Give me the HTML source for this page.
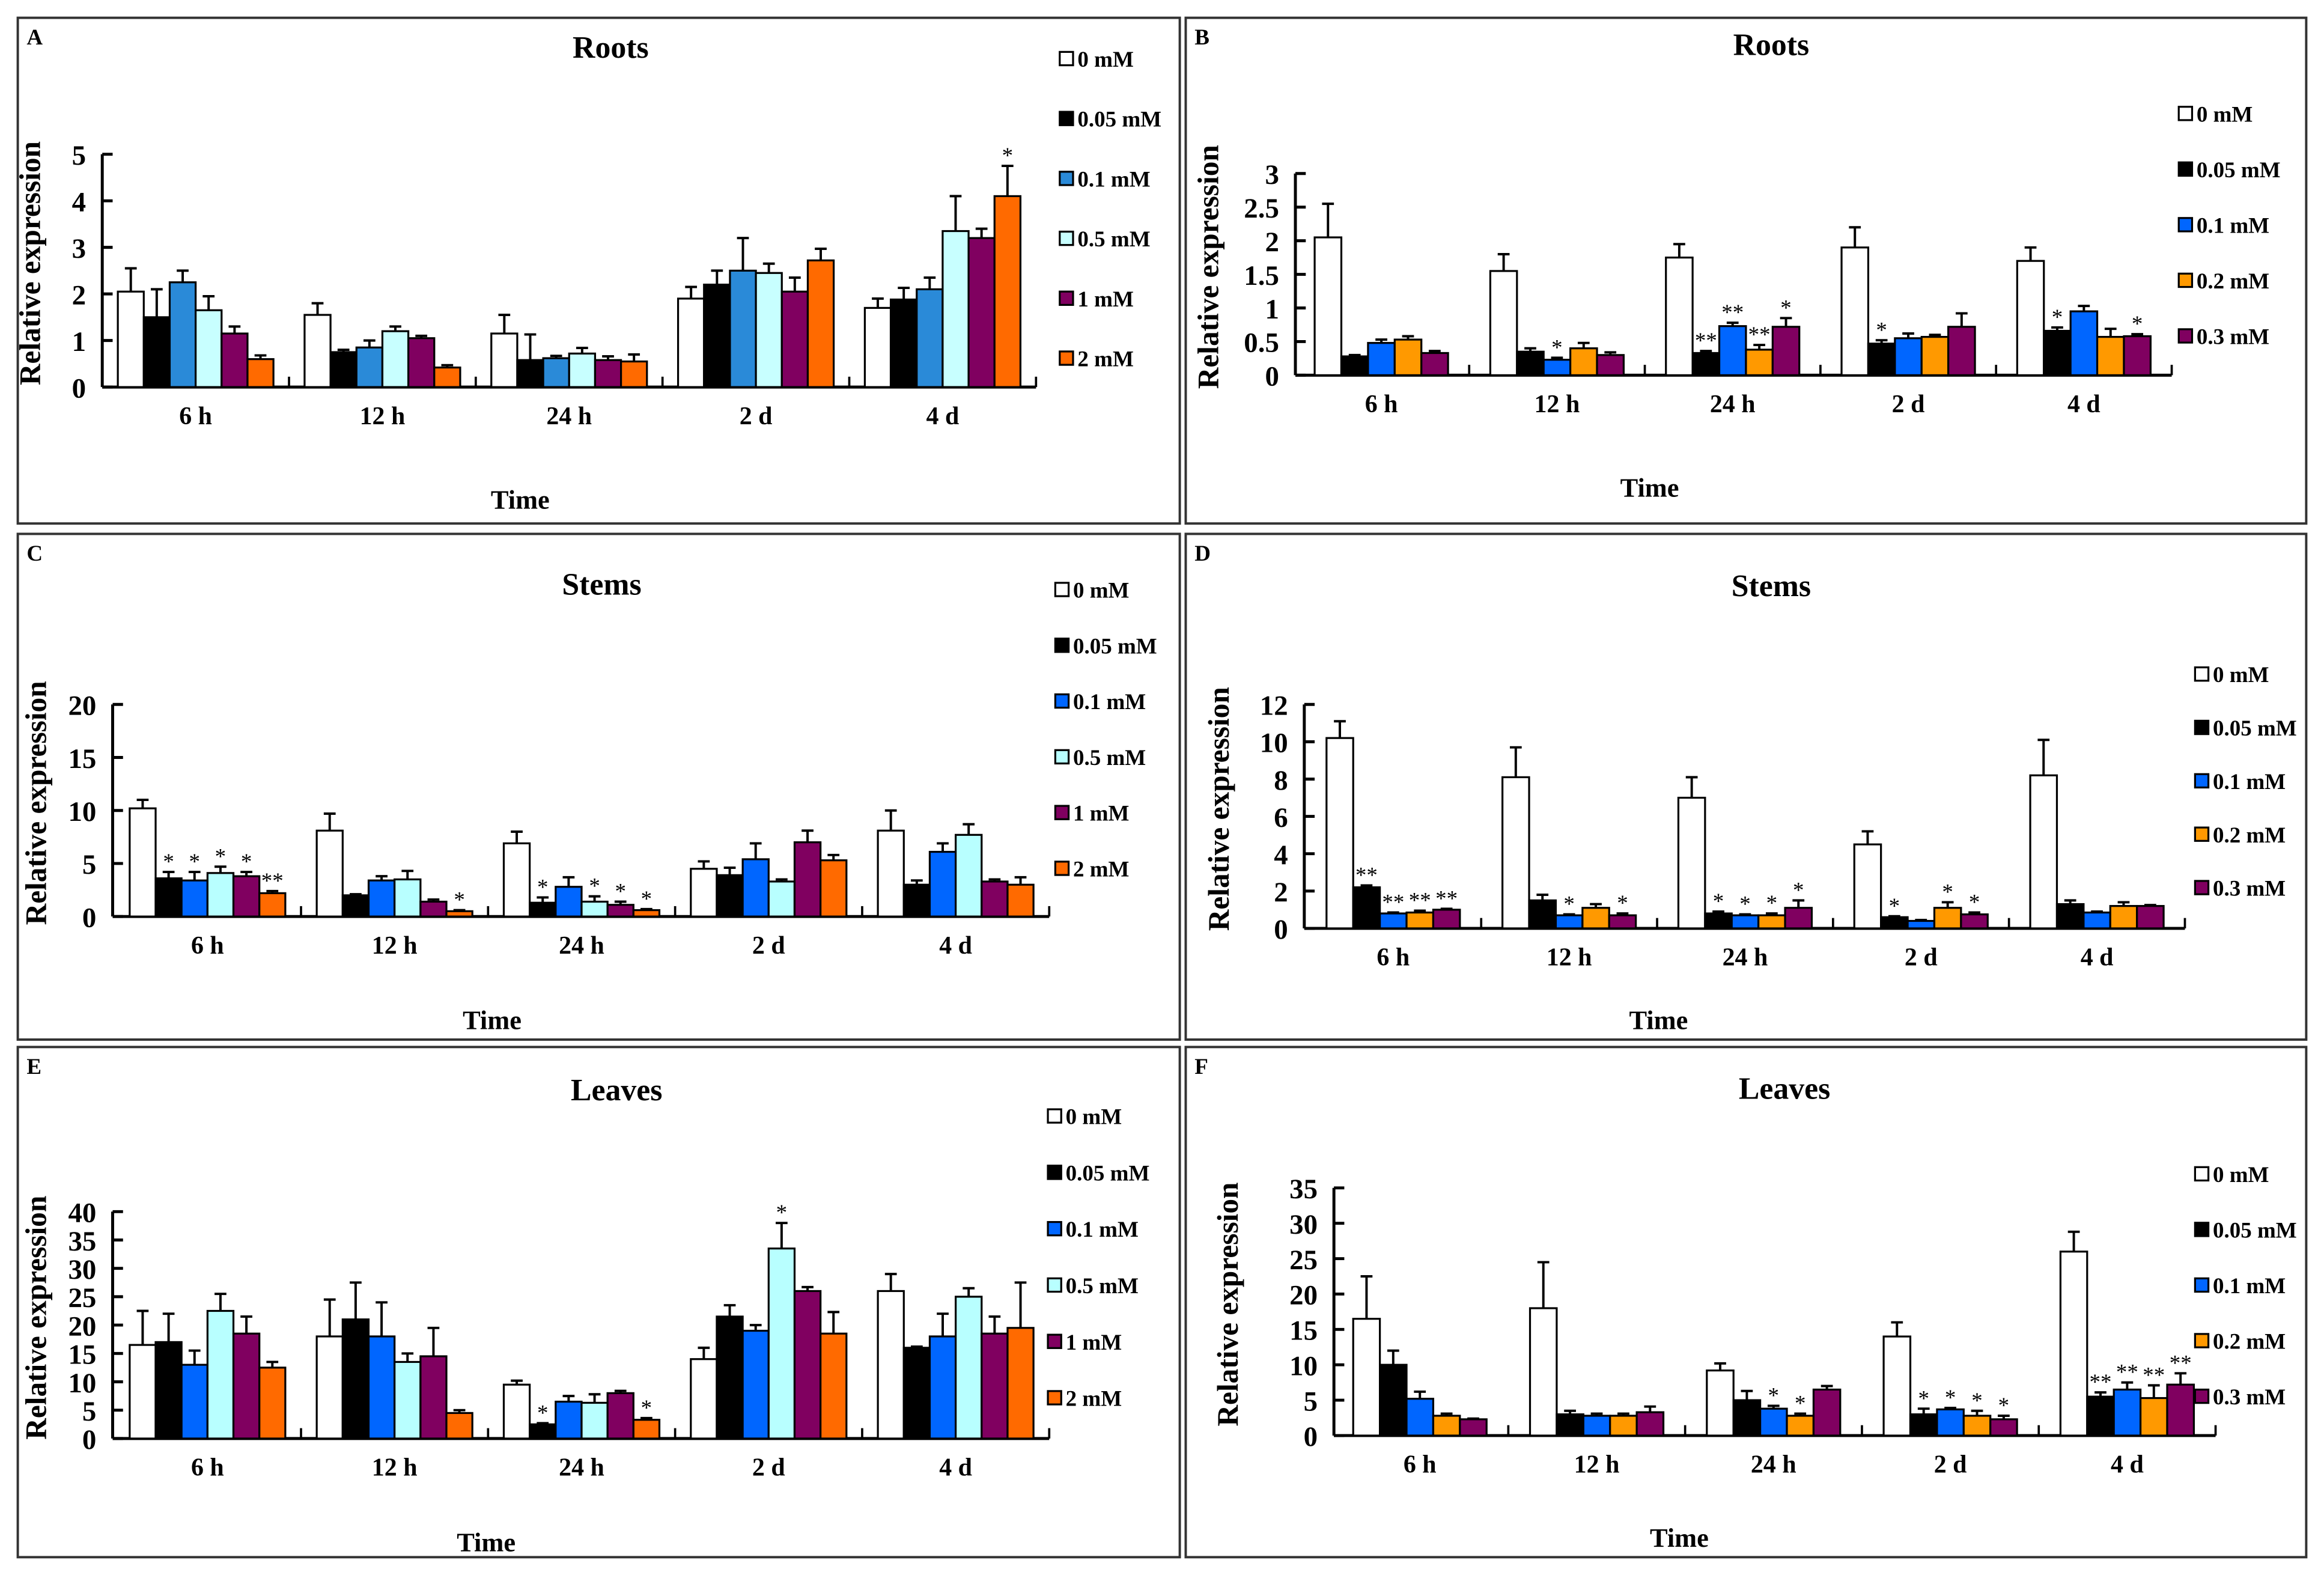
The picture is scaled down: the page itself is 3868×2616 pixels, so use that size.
<!DOCTYPE html>
<html><head><meta charset="utf-8">
<style>
html,body{margin:0;padding:0;background:#fff;}
svg{display:block;font-family:"Liberation Serif",serif;font-weight:bold;}
</style></head>
<body>
<svg id="fig" width="3868" height="2616" viewBox="0 0 1568 1060" preserveAspectRatio="none" xmlns="http://www.w3.org/2000/svg"></svg>
<script>
const categories = ["6 h","12 h","24 h","2 d","4 d"];
const seriesA = ["0 mM","0.05 mM","0.1 mM","0.5 mM","1 mM","2 mM"];
const seriesB = ["0 mM","0.05 mM","0.1 mM","0.2 mM","0.3 mM"];
const colorsA = ["#ffffff","#000000","#2a8ad8","#c8ffff","#800060","#ff6a00"];
const colorsC = ["#ffffff","#000000","#0066ff","#b8ffff","#800060","#ff6a00"];
const colorsB = ["#ffffff","#000000","#0066ff","#ff9900","#800060"];

const valsA = [[2.05,1.5,2.25,1.65,1.15,0.6],[1.55,0.75,0.85,1.2,1.05,0.42],[1.15,0.58,0.62,0.72,0.58,0.55],[1.9,2.2,2.5,2.45,2.05,2.72],[1.7,1.88,2.1,3.35,3.2,4.1]];
const errA = [[0.5,0.6,0.25,0.3,0.15,0.08],[0.25,0.05,0.15,0.1,0.05,0.05],[0.4,0.55,0.05,0.12,0.08,0.15],[0.25,0.3,0.7,0.2,0.3,0.25],[0.2,0.25,0.25,0.75,0.2,0.65]];
const starA = [["","","","","",""],["","","","","",""],["","","","","",""],["","","","","",""],["","","","","","*"]];
const ticksA = [0,1,2,3,4,5];

const valsB = [[2.05,0.28,0.48,0.53,0.33],[1.55,0.35,0.23,0.4,0.3],[1.75,0.33,0.73,0.38,0.72],[1.9,0.47,0.55,0.57,0.72],[1.7,0.66,0.95,0.57,0.58]];
const errB = [[0.5,0.02,0.05,0.05,0.03],[0.25,0.05,0.03,0.08,0.04],[0.2,0.03,0.05,0.07,0.13],[0.3,0.05,0.07,0.03,0.2],[0.2,0.05,0.08,0.12,0.03]];
const starB = [["","","","",""],["","","*","",""],["","**","**","**","*"],["","*","","",""],["","*","","","*"]];
const ticksB = [0,0.5,1,1.5,2,2.5,3];
const tickLabB = ["0","0.5","1","1.5","2","2.5","3"];

const valsC = [[10.2,3.6,3.4,4.1,3.8,2.2],[8.1,2.0,3.4,3.5,1.4,0.5],[6.9,1.3,2.8,1.4,1.1,0.6],[4.5,3.9,5.4,3.3,7.0,5.3],[8.1,3.0,6.1,7.7,3.3,3.0]];
const errC = [[0.8,0.6,0.8,0.6,0.4,0.2],[1.6,0.1,0.4,0.8,0.2,0.1],[1.1,0.5,0.9,0.5,0.3,0.1],[0.7,0.7,1.5,0.2,1.1,0.5],[1.9,0.4,0.8,1.0,0.2,0.7]];
const starC = [["","*","*","*","*","**"],["","","","","","*"],["","*","","*","*","*"],["","","","","",""],["","","","","",""]];
const ticksC = [0,5,10,15,20];

const valsD = [[10.2,2.2,0.8,0.85,1.0],[8.1,1.5,0.7,1.1,0.7],[7.0,0.8,0.7,0.7,1.1],[4.5,0.6,0.4,1.1,0.75],[8.2,1.3,0.85,1.2,1.2]];
const errD = [[0.9,0.1,0.05,0.1,0.05],[1.6,0.3,0.05,0.2,0.1],[1.1,0.1,0.05,0.1,0.4],[0.7,0.05,0.05,0.3,0.1],[1.9,0.2,0.05,0.2,0.05]];
const starD = [["","**","**","**","**"],["","","*","","*"],["","*","*","*","*"],["","*","","*","*"],["","","","",""]];
const ticksD = [0,2,4,6,8,10,12];

const valsE = [[16.5,17,13,22.5,18.5,12.5],[18,21,18,13.5,14.5,4.5],[9.5,2.5,6.5,6.3,8,3.3],[14,21.5,19,33.5,26,18.5],[26,16,18,25,18.5,19.5]];
const errE = [[6,5,2.5,3,3,1],[6.5,6.5,6,1.5,5,0.5],[0.7,0.2,1,1.5,0.4,0.3],[2,2,1,4.5,0.7,3.8],[3,0.2,4,1.5,3,8]];
const starE = [["","","","","",""],["","","","","",""],["","*","","","","*"],["","","","*","",""],["","","","","",""]];
const ticksE = [0,5,10,15,20,25,30,35,40];

const valsF = [[16.5,10,5.2,2.8,2.3],[18,3,2.8,2.8,3.3],[9.2,5,3.8,2.8,6.5],[14,3,3.7,2.8,2.3],[26,5.5,6.5,5.3,7.2]];
const errF = [[6,2,1,0.3,0.1],[6.5,0.5,0.3,0.3,0.8],[1,1.3,0.4,0.3,0.5],[2,0.8,0.2,0.7,0.5],[2.8,0.6,1,1.8,1.6]];
const starF = [["","","","",""],["","","","",""],["","","*","*",""],["","*","*","*","*"],["","**","**","**","**"]];
const ticksF = [0,5,10,15,20,25,30,35];

const NS="http://www.w3.org/2000/svg";
const svg=document.getElementById('fig');
function mk(tag,attrs,parent,text){const e=document.createElementNS(NS,tag);for(const k in attrs)e.setAttribute(k,attrs[k]);if(text!==undefined)e.textContent=text;(parent||svg).appendChild(e);return e;}

const panels=[
 {id:"a",letter:"A",title:"Roots",box:[12,12,784,341],tx:412,ty:32,ax:69,y0:261,ymax:5,ytop:104,g0:132,gs:126,bw:17.5,vals:valsA,err:errA,stars:starA,ticks:ticksA,tl:null,series:seriesA,colors:colorsA,lx:715,ly:40,ld:40.4,tmx:351,tmy:337,ylx:20},
 {id:"b",letter:"B",title:"Roots",box:[800,12,756,341],tx:1195,ty:30,ax:874,y0:253,ymax:3,ytop:117,g0:932,gs:118.5,bw:18,vals:valsB,err:errB,stars:starB,ticks:ticksB,tl:tickLabB,series:seriesB,colors:colorsB,lx:1470,ly:77,ld:37.5,tmx:1113,tmy:329,ylx:815},
 {id:"c",letter:"C",title:"Stems",box:[12,360,784,341],tx:406,ty:394,ax:76,y0:618,ymax:20,ytop:475,g0:140,gs:126.2,bw:17.5,vals:valsC,err:errC,stars:starC,ticks:ticksC,tl:null,series:seriesA,colors:colorsC,lx:712,ly:398,ld:37.6,tmx:332,tmy:688,ylx:24},
 {id:"d",letter:"D",title:"Stems",box:[800,360,756,341],tx:1195,ty:395,ax:880,y0:626,ymax:12,ytop:475,g0:940,gs:118.7,bw:18,vals:valsD,err:errD,stars:starD,ticks:ticksD,tl:null,series:seriesB,colors:colorsB,lx:1481,ly:455,ld:36,tmx:1119,tmy:688,ylx:822},
 {id:"e",letter:"E",title:"Leaves",box:[12,706,784,344],tx:416,ty:735,ax:76,y0:970,ymax:40,ytop:817,g0:140,gs:126.2,bw:17.5,vals:valsE,err:errE,stars:starE,ticks:ticksE,tl:null,series:seriesA,colors:colorsC,lx:707,ly:753,ld:38,tmx:328,tmy:1040,ylx:24},
 {id:"f",letter:"F",title:"Leaves",box:[800,706,756,344],tx:1204,ty:734,ax:900,y0:968,ymax:35,ytop:801,g0:958,gs:119.3,bw:18,vals:valsF,err:errF,stars:starF,ticks:ticksF,tl:null,series:seriesB,colors:colorsB,lx:1481,ly:792,ld:37.5,tmx:1133,tmy:1037,ylx:828}
];

panels.forEach(p=>{
  const g=mk('g',{});
  
  
  const b=mk('rect',{x:p.box[0],y:p.box[1],width:p.box[2],height:p.box[3],fill:'none',stroke:'#333',"stroke-width":1.6},g);
  
  
  const lt=mk('text',{x:p.box[0]+6,y:p.box[1]+18,"font-size":15},g,p.letter);
  
  
  const tt=mk('text',{x:p.tx,y:p.ty+7,"font-size":21,"text-anchor":"middle"},g,p.title);
  
  
  const ys=v=>p.y0-(v/p.ymax)*(p.y0-p.ytop);
  const n=p.series.length;
  const xend=p.g0+p.gs*4+p.gs/2;
  const ya=mk('line',{x1:p.ax,y1:p.ytop,x2:p.ax,y2:p.y0,stroke:'#000',"stroke-width":2},g);
  
  
  p.ticks.forEach((t,i)=>{
    const y=ys(t);
    const tk=mk('line',{x1:p.ax,y1:y,x2:p.ax+7,y2:y,stroke:'#000',"stroke-width":2},g);
    
    
    const lab=mk('text',{x:p.ax-11,y:y+7,"font-size":19,"text-anchor":"end"},g,p.tl?p.tl[i]:String(t));
    
    
  });
  const xa=mk('line',{x1:p.ax,y1:p.y0,x2:xend,y2:p.y0,stroke:'#000',"stroke-width":2},g);
  
  
  categories.forEach((c,ci)=>{
    const cx=p.g0+p.gs*ci;
    const bx=cx+p.gs/2;
    const tk=mk('line',{x1:bx,y1:p.y0,x2:bx,y2:p.y0-7,stroke:'#000',"stroke-width":1.5},g);
    
    
    const cl=mk('text',{x:cx,y:p.y0+25,"font-size":17,"text-anchor":"middle"},g,c);
    
    
    const start=cx-n*p.bw/2;
    for(let s=0;s<n;s++){
      const v=p.vals[ci][s], e=p.err[ci][s];
      const x=start+s*p.bw, y=ys(v);
      const r=mk('rect',{x:x,y:y,width:p.bw,height:p.y0-y,fill:p.colors[s],stroke:'#000',"stroke-width":1.3},g);
      
      
      const ey=ys(v+e), mx=x+p.bw/2;
      const el=mk('path',{d:`M${mx},${y}V${ey}M${mx-4},${ey}H${mx+4}`,stroke:'#000',"stroke-width":1.6,fill:'none'},g);
      
      
      if(p.stars[ci][s]){
        const st=mk('text',{x:mx,y:ey-2,"font-size":15,"text-anchor":"middle","font-weight":"normal"},g,p.stars[ci][s]);
        
        
      }
    }
  });
  const xt=mk('text',{x:p.tmx,y:p.tmy+6,"font-size":18,"text-anchor":"middle"},g,'Time');
  
  
  const ymid=(p.ytop+p.y0)/2-5;
  const yt=mk('text',{x:0,y:0,"font-size":20,"text-anchor":"middle",transform:`translate(${p.ylx+7},${ymid}) rotate(-90)`},g,'Relative expression');
  
  
  p.series.forEach((s,i)=>{
    const ly=p.ly+i*p.ld;
    const le=mk('g',{},g);
    
    
    mk('rect',{x:p.lx,y:ly-5,width:9,height:9,fill:p.colors[i],stroke:'#000',"stroke-width":1.3},le);
    mk('text',{x:p.lx+12,y:ly+5,"font-size":15},le,s);
  });
});
</script>
</body></html>
